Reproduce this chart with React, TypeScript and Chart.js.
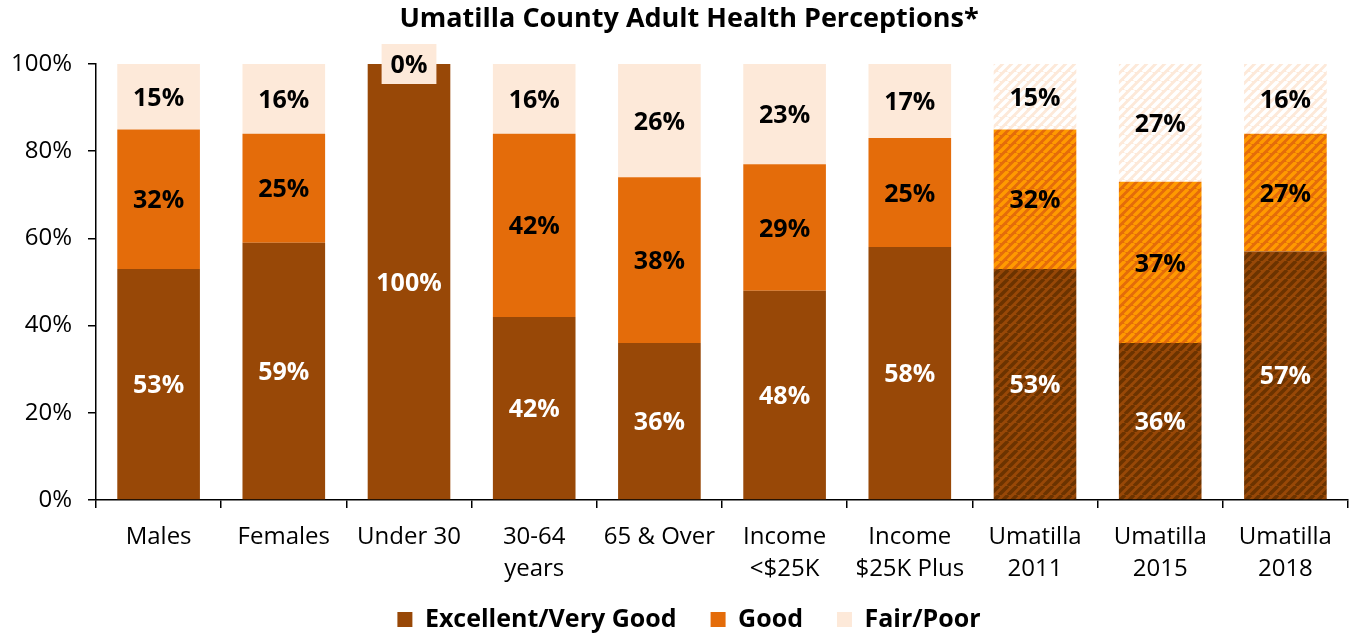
import React, { useEffect, useRef } from "react";
import { Chart, registerables } from "chart.js";
Chart.register(...registerables);

const categories: string[][] = [
  ["Males"],
  ["Females"],
  ["Under 30"],
  ["30-64", "years"],
  ["65 & Over"],
  ["Income", "<$25K"],
  ["Income", "$25K Plus"],
  ["Umatilla", "2011"],
  ["Umatilla", "2015"],
  ["Umatilla", "2018"],
];
const excellentValues = [53, 59, 100, 42, 36, 48, 58, 53, 36, 57];
const goodValues = [32, 25, 0, 42, 38, 29, 25, 32, 37, 27];
const fairPoorValues = [15, 16, 0, 16, 26, 23, 17, 15, 27, 16];
const seriesNames = ["Excellent/Very Good", "Good", "Fair/Poor"];
const titleText = "Umatilla County Adult Health Perceptions*";
const hatchedFromIndex = 7;

const FONT = "'Open Sans', 'Noto Sans', sans-serif";
const DARK = "#984807";
const ORANGE = "#E46C0A";
const LIGHT = "#FDE9D9";

function stripe(bg: string, fg: string, size: number, lw: number) {
  const c = document.createElement("canvas");
  c.width = size;
  c.height = size;
  const ctx = c.getContext("2d")!;
  ctx.fillStyle = bg;
  ctx.fillRect(0, 0, size, size);
  ctx.strokeStyle = fg;
  ctx.lineWidth = lw;
  ctx.beginPath();
  for (const x0 of [-size, 0, size]) {
    ctx.moveTo(x0, size);
    ctx.lineTo(x0 + size, 0);
  }
  ctx.stroke();
  return ctx.createPattern(c, "repeat")!;
}

const labelPlugin = {
  id: "segLabels",
  afterLayout(chart: any) {
    // let tick labels extend past their scale boxes without clipping
    if (chart.scales.y) chart.scales.y.left = 0;
    if (chart.scales.x) chart.scales.x.bottom = chart.height;
  },
  afterDatasetsDraw(chart: any) {
    const ctx = chart.ctx;
    ctx.save();
    ctx.font = `bold 25px ${FONT}`;
    ctx.textAlign = "center";
    ctx.textBaseline = "middle";
    const n = chart.data.datasets.length;
    chart.data.datasets.forEach((ds: any, di: number) => {
      const meta = chart.getDatasetMeta(di);
      meta.data.forEach((el: any, i: number) => {
        const v = ds.data[i];
        if (v === 0 && di !== n - 1) return;
        const { x, y, base } = el.getProps(["x", "y", "base"], true);
        const cy = (y + base) / 2;
        const text = v + "%";
        if (v === 0) {
          const w = ctx.measureText(text).width + 18;
          ctx.fillStyle = LIGHT;
          ctx.fillRect(x - w / 2, cy - 20, w, 40);
        }
        ctx.fillStyle = di === 0 ? "#ffffff" : "#000000";
        ctx.fillText(text, x, cy + 2);
      });
    });
    ctx.restore();
  },
};

export default function App() {
  const ref = useRef<HTMLCanvasElement>(null);
  useEffect(() => {
    document.body.style.margin = "0";
    const darkP = stripe(DARK, "#6B3300", 9, 3.5);
    const orangeP = stripe(ORANGE, "#FF9A00", 9, 3.5);
    const lightP = stripe(LIGHT, "#FFFFFF", 9, 3.5);
    const fill = (solid: any, pat: any) =>
      categories.map((_, i) => (i >= hatchedFromIndex ? pat : solid));
    const solids = [DARK, ORANGE, LIGHT];

    const chart = new Chart(ref.current!, {
      type: "bar",
      data: {
        labels: categories,
        datasets: [
          { label: seriesNames[0], data: excellentValues, backgroundColor: fill(DARK, darkP) as any },
          { label: seriesNames[1], data: goodValues, backgroundColor: fill(ORANGE, orangeP) as any },
          { label: seriesNames[2], data: fairPoorValues, backgroundColor: fill(LIGHT, lightP) as any },
        ],
      },
      options: {
        animation: false,
        responsive: true,
        maintainAspectRatio: false,
        datasets: { bar: { barPercentage: 0.66, categoryPercentage: 1 } },
        layout: { padding: { left: 30, right: 6, top: 0, bottom: -6 } },
        plugins: {
          tooltip: { enabled: false },
          title: {
            display: true,
            text: titleText,
            color: "#000",
            font: { family: FONT, size: 27, weight: "bold", lineHeight: 1.2 },
            padding: { top: 3, bottom: 28.6 },
          },
          legend: {
            position: "bottom",
            labels: {
              color: "#000",
              boxWidth: 15,
              boxHeight: 15,
              padding: 34,
              font: { family: FONT, size: 25, weight: "bold" },
              generateLabels: () =>
                seriesNames.map((name, i) => ({
                  text: name,
                  fillStyle: solids[i],
                  strokeStyle: solids[i],
                  lineWidth: 0,
                  hidden: false,
                  datasetIndex: i,
                  fontColor: "#000",
                })),
            },
          },
        },
        scales: {
          x: {
            stacked: true,
            afterFit: (s: any) => {
              s.height = 73;
            },
            grid: {
              display: true,
              offset: true,
              drawOnChartArea: false,
              drawTicks: true,
              tickLength: 8,
              color: "#000",
              lineWidth: 1.5,
            },
            border: { display: true, color: "#000", width: 1.5 },
            ticks: {
              color: "#000",
              padding: 13,
              maxRotation: 0,
              autoSkip: false,
              font: { family: FONT, size: 24, lineHeight: 1.33 },
            },
          },
          y: {
            stacked: true,
            min: 0,
            max: 100,
            afterFit: (s: any) => {
              s.width = 66;
            },
            grid: {
              display: true,
              drawOnChartArea: false,
              drawTicks: true,
              tickLength: 8,
              color: "#000",
              lineWidth: 1.5,
            },
            border: { display: true, color: "#000", width: 1.5 },
            ticks: {
              stepSize: 20,
              color: "#000",
              padding: 16,
              callback: (v: any) => v + "%",
              font: { family: FONT, size: 24 },
            },
          },
        },
      },
      plugins: [labelPlugin],
    });
    return () => chart.destroy();
  }, []);
  return (
    <div style={{ position: "fixed", left: 0, top: 0, width: 1354, height: 636 }}>
      <canvas ref={ref} />
    </div>
  );
}
